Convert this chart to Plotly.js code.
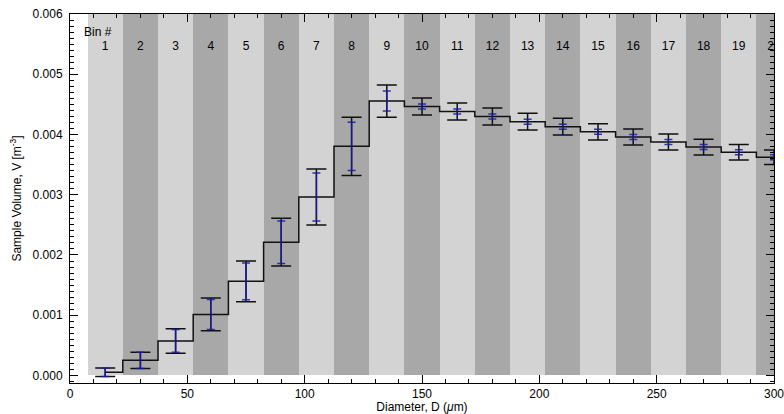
<!DOCTYPE html>
<html>
<head>
<meta charset="utf-8">
<script src="https://cdn.plot.ly/plotly-3.0.1.min.js"></script>
<style>html,body{margin:0;padding:0;background:#fff;}#chart{width:784px;height:414px;}</style>
</head>
<body>
<div id="chart"></div>
<script>
// ---- data ----
const binNumbers = [1,2,3,4,5,6,7,8,9,10,11,12,13,14,15,16,17,18,19,20];
const binCenters = [15,30,45,60,75,90,105,120,135,150,165,180,195,210,225,240,255,270,285,300];
const binWidth = 15;
const bandTop = [0.006,0.006,0.006,0.006,0.006,0.006,0.006,0.006,0.006,0.006,0.006,0.006,0.006,0.006,0.006,0.006,0.006,0.006,0.006,0.006];
const sampleVolume = [0.000053,0.000251,0.000573,0.001014,0.001562,0.002212,0.002962,0.003803,0.004554,0.004466,
                      0.004383,0.004300,0.004213,0.004130,0.004044,0.003959,0.003876,0.003791,0.003706,0.003623];
const errTotal = [0.000070,0.000136,0.000203,0.000271,0.000337,0.000396,0.000465,0.000482,0.000269,0.000141,
                  0.000141,0.000141,0.000138,0.000138,0.000136,0.000133,0.000133,0.000130,0.000128,0.000121];
const errStat  = [0.000070,0.000136,0.000188,0.000249,0.000304,0.000352,0.000399,0.000399,0.000166,0.0000415,
                  0.0000415,0.0000415,0.0000415,0.0000415,0.0000415,0.0000415,0.0000415,0.0000415,0.0000415,0.0000415];
const binLabelY = 0.00546;
const binHeaderText = 'Bin #';

// ---- styles ----
const lightGray = '#d3d3d3', darkGray = '#a8a8a8';
const bandColors = binNumbers.map(n => (n % 2 === 1 ? lightGray : darkGray));
const font = 'Liberation Sans, Arial, Helvetica, sans-serif';

const traces = [
  { type:'bar', x: binCenters, y: bandTop, width: binCenters.map(() => binWidth),
    marker:{color: bandColors, line:{width:0}}, hoverinfo:'skip', showlegend:false },
  { type:'scatter', mode:'lines', x: binCenters, y: sampleVolume,
    line:{shape:'hvh', color:'#111', width:1.5}, hoverinfo:'skip', showlegend:false },
  { type:'scatter', mode:'markers', x: binCenters, y: sampleVolume,
    marker:{size:1, opacity:0},
    error_y:{type:'data', array: errTotal, visible:true, color:'#111', thickness:1.5, width:10},
    hoverinfo:'skip', showlegend:false },
  { type:'scatter', mode:'markers', x: binCenters, y: sampleVolume,
    marker:{size:1, opacity:0},
    error_y:{type:'data', array: errStat, visible:true, color:'rgba(25,25,165,0.85)', thickness:1.5, width:4},
    hoverinfo:'skip', showlegend:false },
  { type:'scatter', mode:'text', x: binCenters, y: binCenters.map(() => binLabelY),
    text: binNumbers.map(String), textposition:'middle center', cliponaxis:true,
    textfont:{family:font, size:12, color:'#000'}, hoverinfo:'skip', showlegend:false }
];

const layout = {
  width:784, height:414,
  margin:{l:70, r:10, t:14, b:31, pad:0},
  paper_bgcolor:'#fff', plot_bgcolor:'#fff',
  bargap:0,
  showlegend:false,
  font:{family:font, size:12, color:'#000'},
  xaxis:{
    range:[0,300], tick0:0, dtick:50, ticks:'inside', ticklen:8, tickwidth:1, tickcolor:'#000',
    minor:{dtick:10, ticks:'inside', ticklen:4, tickwidth:1, tickcolor:'#000'},
    showline:true, linecolor:'#000', linewidth:1, mirror:'allticks',
    showgrid:false, zeroline:false, ticklabeloverflow:'allow',
    tickfont:{family:font, size:12, color:'#000'},
    title:{text:'Diameter, D (<i>μ</i>m)', font:{family:font, size:12, color:'#000'}, standoff:2}
  },
  yaxis:{
    range:[-0.000125, 0.006], tick0:0, dtick:0.001, tickformat:'.3f',
    ticks:'inside', ticklen:8, tickwidth:1, tickcolor:'#000',
    minor:{dtick:0.0001, ticks:'inside', ticklen:4, tickwidth:1, tickcolor:'#000'},
    showline:true, linecolor:'#000', linewidth:1, mirror:'allticks',
    showgrid:false, zeroline:false, ticklabelstandoff:4, ticklabeloverflow:'allow',
    tickfont:{family:font, size:12, color:'#000'},
    title:{text:'Sample Volume, V [m<sup>-3</sup>]', font:{family:font, size:12, color:'#000'}, standoff:8}
  },
  annotations:[
    { xref:'x', yref:'paper', x:5, y:0.95, xanchor:'left', yanchor:'middle',
      text: binHeaderText, showarrow:false, font:{family:font, size:12, color:'#000'} }
  ]
};

Plotly.newPlot('chart', traces, layout, {displayModeBar:false, staticPlot:true});
</script>
</body>
</html>
